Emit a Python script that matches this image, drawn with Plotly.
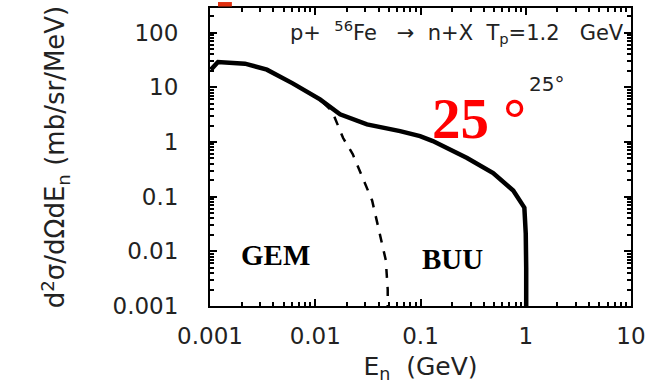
import plotly.graph_objects as go

# BUU (solid) curve: neutron energy (GeV) vs cross section (mb/sr/MeV)
buu_e = [0.00102, 0.00119, 0.00215, 0.00347, 0.0061, 0.0111, 0.0172, 0.031,
         0.064, 0.099, 0.131, 0.277, 0.49, 0.76, 0.97, 1.0, 1.01, 1.01]
buu_s = [21, 29, 27, 21, 11.8, 6.0, 3.2, 2.1,
         1.58, 1.28, 1.04, 0.51, 0.27, 0.129, 0.063, 0.021, 0.005, 0.0001]

# GEM (dashed) curve
gem_e = [0.00102, 0.00119, 0.00215, 0.00347, 0.0061, 0.0111, 0.0145, 0.0184,
         0.0227, 0.0284, 0.0347, 0.041, 0.0468, 0.0488, 0.049]
gem_s = [21, 29, 27, 21, 11.8, 6.0, 3.6, 1.18,
         0.6, 0.22, 0.085, 0.021, 0.0069, 0.002, 0.0001]

x_ticks = [0.001, 0.01, 0.1, 1, 10]
x_ticktext = ["0.001", "0.01", "0.1", "1", "10"]
y_ticks = [0.001, 0.01, 0.1, 1, 10, 100]
y_ticktext = ["0.001", "0.01", "0.1", "1", "10", "100"]


def minor_vals(decades):
    return [k * d for d in decades for k in range(2, 10)]


x_minor = minor_vals(x_ticks[:-1])
y_minor = minor_vals(y_ticks)

fig = go.Figure()
fig.add_trace(go.Scatter(x=gem_e, y=gem_s, mode="lines",
                         line=dict(color="black", width=2.5, dash="dash"),
                         showlegend=False))
fig.add_trace(go.Scatter(x=buu_e, y=buu_s, mode="lines",
                         line=dict(color="black", width=4.5),
                         showlegend=False))

tickfont = dict(family="DejaVu Sans", size=23, color="#222")
axis_common = dict(type="log", showgrid=False, zeroline=False,
                   showline=True, linecolor="black", linewidth=2,
                   mirror="ticks", ticks="inside", ticklen=7, tickwidth=2,
                   tickcolor="black", tickfont=tickfont)

nb = "\u00a0"
fig.update_xaxes(range=[-3, 1], tickvals=x_ticks, ticktext=x_ticktext,
                 ticklabelstandoff=8,
                 minor=dict(tickvals=x_minor, ticks="inside", ticklen=4,
                            tickwidth=1.5, tickcolor="black", showgrid=False),
                 title=dict(text="E<sub>n</sub>" + nb * 2 + "(GeV)",
                            font=dict(family="DejaVu Sans", size=25, color="#222"),
                            standoff=10),
                 **axis_common)
fig.update_yaxes(range=[-3, 2.45], tickvals=y_ticks, ticktext=y_ticktext,
                 ticklabelstandoff=25,
                 minor=dict(tickvals=y_minor, ticks="inside", ticklen=4,
                            tickwidth=1.5, tickcolor="black", showgrid=False),
                 title=dict(text="d<sup>2</sup>σ/dΩdE<sub>n</sub> (mb/sr/MeV)",
                            font=dict(family="DejaVu Sans", size=26, color="#222"),
                            standoff=40),
                 **axis_common)

top_text = ("p+" + nb * 2 + "<sup>56</sup>Fe" + nb * 3 + "→" + nb * 2 + "n+X" +
            nb * 2 + "T<sub>p</sub>=1.2" + nb * 3 + "GeV")
fig.add_annotation(x=0.987, y=0.975, xref="paper", yref="paper",
                   xanchor="right", yanchor="top", showarrow=False,
                   text=top_text,
                   font=dict(family="DejaVu Sans", size=21, color="#222"))
fig.add_annotation(x=0.8, y=0.745, xref="paper", yref="paper",
                   xanchor="center", yanchor="middle", showarrow=False,
                   text="25°",
                   font=dict(family="DejaVu Sans", size=20, color="#222"))
fig.add_annotation(x=0.64, y=0.63, xref="paper", yref="paper",
                   xanchor="center", yanchor="middle", showarrow=False,
                   text="<b>25 °</b>",
                   font=dict(family="Liberation Serif", size=57, color="red"))
fig.add_annotation(x=0.155, y=0.17, xref="paper", yref="paper",
                   xanchor="center", yanchor="middle", showarrow=False,
                   text="<b>GEM</b>",
                   font=dict(family="Liberation Serif", size=29, color="black"))
fig.add_annotation(x=0.577, y=0.158, xref="paper", yref="paper",
                   xanchor="center", yanchor="middle", showarrow=False,
                   text="<b>BUU</b>",
                   font=dict(family="Liberation Serif", size=29, color="black"))

fig.add_shape(type="rect", xref="paper", yref="paper",
              x0=0.019, x1=0.052, y0=1.005, y1=1.02,
              fillcolor="#e03010", line=dict(width=0))

fig.update_layout(width=656, height=391,
                  margin=dict(l=210, r=25, t=6, b=85),
                  paper_bgcolor="white", plot_bgcolor="white")

fig.write_html("out.html")
